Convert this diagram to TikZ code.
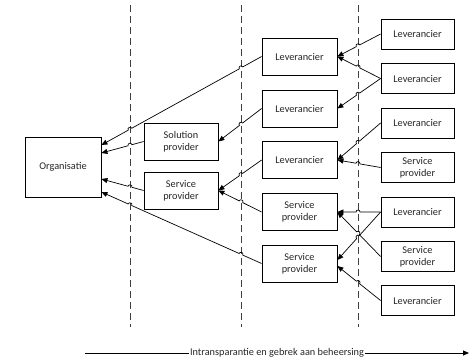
\documentclass[tikz,border=0pt]{standalone}
\usepackage{fontspec}
\setmainfont{Carlito}
\usetikzlibrary{calc,arrows.meta}

% connector with one hop over a dashed guide line
\newcommand\hopone[3]{%
  \path (intersection of #1--#2 and #3t--#3b) coordinate (hx);
  \draw[conn] (#1) -- ($(hx)!2pt!(#1)$) to[hop] ($(hx)!2pt!(#2)$) -- (#2);}
% connector with hops over two dashed guide lines (#3 nearer the source)
\newcommand\hoptwo[4]{%
  \path (intersection of #1--#2 and #3t--#3b) coordinate (hx);
  \path (intersection of #1--#2 and #4t--#4b) coordinate (hy);
  \draw[conn] (#1) -- ($(hx)!2pt!(#1)$) to[hop] ($(hx)!2pt!(#2)$)
    -- ($(hy)!2pt!(#1)$) to[hop] ($(hy)!2pt!(#2)$) -- (#2);}

\begin{document}
\begin{tikzpicture}[x=1pt,y=-1pt,
  lbl/.style={font=\fontsize{10.3}{12}\selectfont,text=black!85},
  box/.style={lbl,draw=black,line width=0.8pt,fill=white,align=center,inner sep=1pt},
  midbox/.style={box,minimum width=75pt,minimum height=37pt},
  endbox/.style={box,minimum width=73pt,minimum height=30pt},
  conn/.style={line width=0.7pt,-{Triangle[length=6pt,width=5pt]}},
  hop/.style={bend right=90,looseness=1.7},
  guide/.style={draw=black!75,line width=0.8pt,dash pattern=on 7pt off 4pt}]
\useasboundingbox (0,0) rectangle (474,361);

% dashed guide lines
\coordinate (dat) at (130,5);   \coordinate (dab) at (130,327);
\coordinate (dbt) at (241,5);   \coordinate (dbb) at (241,327);
\coordinate (dct) at (358,5);   \coordinate (dcb) at (358,327);
\draw[guide] (dat) -- (dab);
\draw[guide] (dbt) -- (dbb);
\draw[guide] (dct) -- (dcb);

% organisation
\node[box,minimum width=76pt,minimum height=60pt] (org) at (63,167) {Organisatie};

% second column
\node[box,minimum width=74pt,minimum height=37pt] (sol) at (181,141.5) {Solution\\provider};
\node[box,minimum width=74pt,minimum height=37pt] (sp2) at (181,190.5) {Service\\provider};

% third column
\node[midbox] (lev1) at (299.5,56.5) {Leverancier};
\node[midbox] (lev2) at (299.5,108.5) {Leverancier};
\node[midbox] (lev3) at (299.5,160) {Leverancier};
\node[midbox] (sp3a) at (299.5,212) {Service\\provider};
\node[midbox] (sp3b) at (299.5,263.5) {Service\\provider};

% fourth column
\node[endbox] (la) at (417.5,34) {Leverancier};
\node[endbox] (lb) at (417.5,78.5) {Leverancier};
\node[endbox] (lc) at (417.5,123) {Leverancier};
\node[endbox] (sd) at (417.5,167.5) {Service\\provider};
\node[endbox] (le) at (417.5,212) {Leverancier};
\node[endbox] (sf) at (417.5,256.5) {Service\\provider};
\node[endbox] (lg) at (417.5,300.5) {Leverancier};

% connection points
\coordinate (o1) at ([yshift=22pt]org.east);
\coordinate (o2) at ([yshift=14pt]org.east);
\coordinate (o3) at ([yshift=-12pt]org.east);
\coordinate (o4) at ([yshift=-25pt]org.east);
\coordinate (s3b1) at ([yshift=3.5pt]sp3b.east);
\coordinate (s3b2) at ([yshift=-2.5pt]sp3b.east);

% into the organisation
\hoptwo{lev1.west}{o1}{db}{da}
\hopone{sol.west}{o2}{da}
\hopone{sp2.west}{o3}{da}
\hoptwo{sp3b.west}{o4}{db}{da}

% into the second column
\hopone{lev2.west}{sol.east}{db}
\hopone{lev3.west}{sp2.east}{db}
\hopone{sp3a.west}{sp2.east}{db}

% into the third column
\hopone{la.west}{lev1.east}{dc}
\hopone{lb.west}{lev1.east}{dc}
\hopone{lb.west}{lev2.east}{dc}
\hopone{lc.west}{lev3.east}{dc}
\hopone{sd.west}{lev3.east}{dc}
\hopone{le.west}{sp3a.east}{dc}
\hopone{le.west}{s3b1}{dc}
\hopone{sf.west}{sp3a.east}{dc}
\hopone{lg.west}{s3b2}{dc}

% bottom axis
\coordinate (ax0) at (85,353);
\coordinate (ax1) at (469,353);
\node[lbl,inner sep=0.5pt] (axl) at (277,353)
  {Intransparantie en gebrek aan beheersing};
\draw[line width=0.8pt] (ax0) -- (axl.west);
\draw[line width=0.8pt,-{Triangle[length=6pt,width=5pt]}] (axl.east) -- (ax1);
\end{tikzpicture}
\end{document}
